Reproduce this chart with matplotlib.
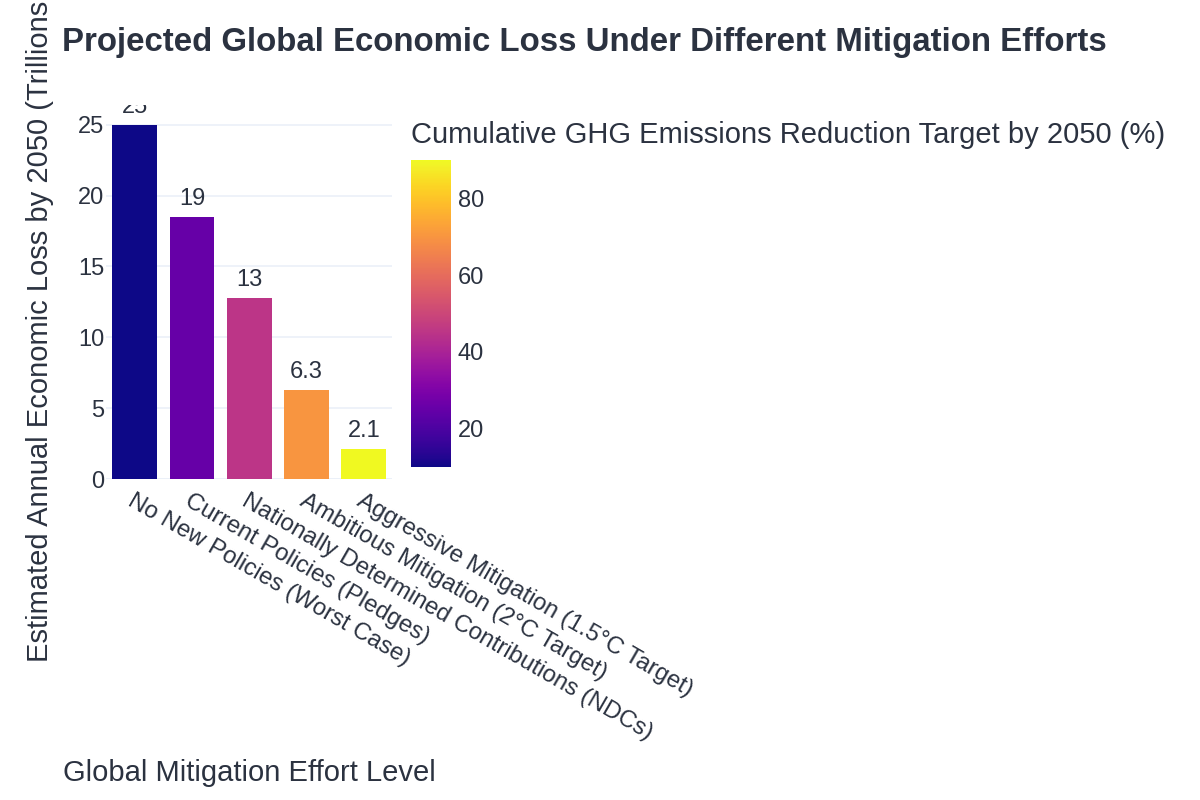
import matplotlib
matplotlib.use("Agg")
import matplotlib.pyplot as plt
from matplotlib import cm, colors
from decimal import Decimal, ROUND_HALF_UP

plt.rcParams["font.family"] = ["Liberation Sans", "DejaVu Sans"]

TEXT = "#2b3240"
GRID = "#EBF0F8"

scenarios = [
    "No New Policies (Worst Case)",
    "Current Policies (Pledges)",
    "Nationally Determined Contributions (NDCs)",
    "Ambitious Mitigation (2°C Target)",
    "Aggressive Mitigation (1.5°C Target)",
]
economic_loss = [25, 18.5, 12.8, 6.3, 2.1]
reduction_target = [10, 25, 45, 70, 90]


def two_sig(v):
    # round half up to 2 significant figures, like the d3 ".2s" label
    d = Decimal(str(v))
    q = Decimal(1).scaleb(d.adjusted() - 1)
    return f"{float(d.quantize(q, rounding=ROUND_HALF_UP)):g}"


fig = plt.figure(figsize=(12, 8), dpi=100)
ax = fig.add_axes([0.0885, 0.401, 0.2385, 0.468])

norm = colors.Normalize(vmin=min(reduction_target), vmax=max(reduction_target))
cmap = plt.get_cmap("plasma")
x = list(range(len(scenarios)))
bars = ax.bar(x, economic_loss, width=0.78, color=[cmap(norm(v)) for v in reduction_target], zorder=3)

for rect, v in zip(bars, economic_loss):
    ax.annotate(two_sig(v), (rect.get_x() + rect.get_width() / 2, rect.get_height()),
                xytext=(0, 5), textcoords="offset points", ha="center", va="bottom",
                fontsize=17, color=TEXT, clip_on=True, zorder=4)

ax.set_xlim(-0.5, len(scenarios) - 0.5)
ax.set_ylim(0, 26.4)
ax.set_yticks([0, 5, 10, 15, 20, 25])
ax.set_xticks(x)
ax.set_xticklabels(scenarios, rotation=-30, ha="left", va="top", rotation_mode="anchor")
ax.tick_params(axis="x", length=0, pad=8, labelsize=17.3, labelcolor=TEXT)
ax.tick_params(axis="y", length=0, pad=1.5, labelsize=17, labelcolor=TEXT)
ax.grid(axis="y", color=GRID, linewidth=1.2, zorder=0)
ax.axhline(0, color=GRID, linewidth=2, zorder=1)
for s in ax.spines.values():
    s.set_visible(False)

# long axis title runs past the top edge, as in the reference
ax.text(-0.231, 0.5, "Estimated Annual Economic Loss by 2050 (Trillions USD)",
        transform=ax.transAxes, rotation=90, ha="center", va="center",
        fontsize=21, color=TEXT, clip_on=False)
ax.text(0.5, -0.786, "Global Mitigation Effort Level", transform=ax.transAxes,
        ha="center", va="center", fontsize=21, color=TEXT)

cax = fig.add_axes([0.3425, 0.416, 0.0333, 0.384])
cb = fig.colorbar(cm.ScalarMappable(norm=norm, cmap=cmap), cax=cax)
cb.outline.set_visible(False)
cb.set_ticks([20, 40, 60, 80])
cax.tick_params(length=0, pad=5, labelsize=17, labelcolor=TEXT)
cax.text(0, 1.081, "Cumulative GHG Emissions Reduction Target by 2050 (%)",
         transform=cax.transAxes, ha="left", va="center", fontsize=21, color=TEXT)

fig.text(62 / 1200, 1 - 43 / 800, "Projected Global Economic Loss Under Different Mitigation Efforts",
         ha="left", va="center", fontsize=23.8, fontweight="bold", color=TEXT)

fig.savefig("out.png", dpi=100)
